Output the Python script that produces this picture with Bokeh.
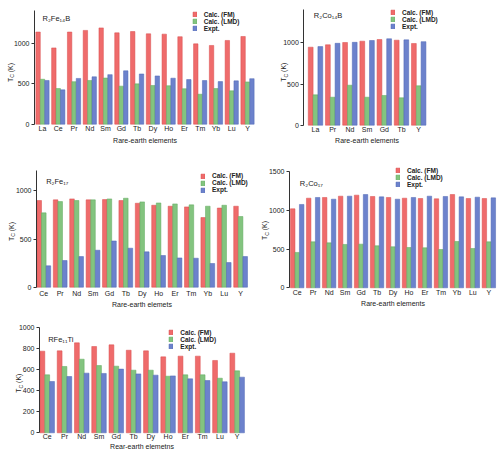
import math
from bokeh.plotting import figure
from bokeh.models import (Range1d, FixedTicker, Label, Legend, LegendItem,
                          ColumnDataSource)
from bokeh.transform import dodge
from bokeh.layouts import column, row
from bokeh.embed import file_html
from bokeh.resources import INLINE

# ---------------- data ----------------
series_names = ["Calc. (FM)", "Calc. (LMD)", "Expt."]

r2fe14b_el = ["La", "Ce", "Pr", "Nd", "Sm", "Gd", "Tb", "Dy", "Ho", "Er", "Tm", "Yb", "Lu", "Y"]
r2fe14b_fm = [1138, 942, 1138, 1158, 1189, 1128, 1144, 1116, 1112, 1080, 992, 972, 1034, 1083]
r2fe14b_lmd = [555, 440, 525, 540, 570, 470, 498, 478, 475, 438, 370, 440, 412, 522]
r2fe14b_exp = [540, 424, 565, 585, 612, 659, 620, 596, 568, 551, 539, 526, 535, 562]

r2co14b_el = ["La", "Pr", "Nd", "Sm", "Gd", "Tb", "Y"]
r2co14b_fm = [948, 977, 1005, 1021, 1041, 1033, 993]
r2co14b_lmd = [369, 340, 486, 340, 361, 333, 479]
r2co14b_exp = [955, 995, 1007, 1029, 1050, 1037, 1015]

r2fe17_el = ["Ce", "Pr", "Nd", "Sm", "Gd", "Tb", "Dy", "Ho", "Er", "Tm", "Yb", "Lu", "Y"]
r2fe17_fm = [900, 907, 917, 907, 910, 900, 872, 851, 841, 834, 723, 822, 841]
r2fe17_lmd = [772, 889, 900, 907, 917, 924, 886, 875, 865, 855, 841, 851, 734]
r2fe17_exp = [222, 277, 318, 384, 480, 405, 367, 329, 304, 301, 246, 256, 318]

r2co17_el = ["Ce", "Pr", "Nd", "Sm", "Gd", "Tb", "Dy", "Ho", "Er", "Tm", "Yb", "Lu", "Y"]
r2co17_fm = [1019, 1156, 1165, 1182, 1195, 1178, 1165, 1156, 1152, 1148, 1203, 1152, 1152]
r2co17_lmd = [456, 593, 580, 559, 563, 542, 529, 520, 516, 494, 597, 507, 593]
r2co17_exp = [1075, 1165, 1143, 1182, 1203, 1173, 1143, 1165, 1182, 1178, 1173, 1169, 1160]

rfe11ti_el = ["Ce", "Pr", "Nd", "Sm", "Gd", "Tb", "Dy", "Ho", "Er", "Tm", "Lu", "Y"]
rfe11ti_fm = [773, 776, 852, 817, 833, 782, 776, 719, 726, 726, 685, 754]
rfe11ti_lmd = [549, 628, 697, 637, 631, 593, 593, 536, 549, 549, 517, 587]
rfe11ti_exp = [486, 533, 565, 562, 603, 558, 546, 539, 511, 495, 483, 527]

# ---------------- style ----------------
FILL = ["#EF6B6B", "#83C47F", "#6C82CC"]
EDGE = ["#D94C4C", "#5FA85C", "#4F66B5"]
FONT = "Liberation Sans"
TXT = "#222222"
BW = 0.28


def panel(el, fm, lmd, exp, canvas, x0, s, axis_x, yzero, k, ymax, yticks,
          formula, fpos, ytpos, legpos, xlabel, xstand, xlstand):
    CL, CT, W, H = canvas
    CB = CT + H
    n = len(el)
    p = figure(width=W, height=H, output_backend="svg", toolbar_location=None,
               x_range=Range1d((CL - x0) / s, (CL + W - x0) / s),
               y_range=Range1d((yzero - CB) / k, (yzero - CT) / k),
               min_border_left=0, min_border_right=0,
               min_border_top=0, min_border_bottom=0)
    p.outline_line_color = None
    p.grid.visible = False
    p.background_fill_color = "white"
    src = ColumnDataSource(dict(xi=list(range(n)), el=el, fm=fm, lmd=lmd, exp=exp))
    rs = []
    for i, col in enumerate(["fm", "lmd", "exp"]):
        r = p.vbar(x=dodge("xi", (i - 1) * BW), top=col, width=BW, source=src,
                   fill_color=FILL[i], line_color=EDGE[i], line_width=0.5)
        rs.append(r)
    # x axis (category names)
    xa = p.xaxis[0]
    xa.fixed_location = 0
    xa.bounds = (-0.5, n - 0.5)
    xa.ticker = FixedTicker(ticks=list(range(n)))
    xa.major_label_overrides = {i: name for i, name in enumerate(el)}
    xa.axis_line_color = None
    xa.major_tick_line_color = None
    xa.minor_tick_line_color = None
    xa.major_tick_out = 0
    xa.major_tick_in = 0
    xa.major_label_text_font_size = "7px"
    xa.major_label_text_font = FONT
    xa.major_label_text_color = TXT
    xa.major_label_standoff = xstand
    xa.axis_label = xlabel
    xa.axis_label_text_font_style = "normal"
    xa.axis_label_text_font_size = "7px"
    xa.axis_label_text_font = FONT
    xa.axis_label_text_color = TXT
    xa.axis_label_standoff = xlstand
    # y axis
    ya = p.yaxis[0]
    ya.fixed_location = (axis_x - x0) / s
    ya.bounds = (0, ymax)
    ya.ticker = FixedTicker(ticks=yticks)
    ya.minor_tick_line_color = None
    ya.major_tick_out = 3
    ya.major_tick_in = 0
    ya.major_label_standoff = 2
    ya.major_label_text_font_size = "7px"
    ya.major_label_text_font = FONT
    ya.major_label_text_color = TXT
    ya.axis_line_color = "#333333"
    ya.major_tick_line_color = "#333333"
    # legend (square left edge, first row centre)
    leg = Legend(items=[LegendItem(label=nm, renderers=[r]) for nm, r in zip(series_names, rs)],
                 location=(legpos[0] - CL, CB - (legpos[1] - 3.5 + 21)),
                 glyph_width=5, glyph_height=6, label_height=7,
                 spacing=0, padding=0, margin=0, label_standoff=7,
                 border_line_color=None, background_fill_alpha=0,
                 label_text_font_size="6.5px", label_text_font_style="bold",
                 label_text_font=FONT, label_text_color=TXT)
    p.add_layout(leg)
    # compound formula
    p.add_layout(Label(x=fpos[0] - CL, y=CB - fpos[1], x_units="screen", y_units="screen",
                       text=formula, text_font_size="7.5px", text_font=FONT,
                       text_color=TXT, text_baseline="middle", text_align="left"))
    # y title  T_C (K), rotated
    fs = 7.0
    wT = 0.611 * fs
    wC = 0.722 * 5.0
    gap = 0.278 * fs
    wK = (0.333 + 0.667 + 0.333) * fs
    fx = ytpos[0] - CL
    y0 = (CB - ytpos[1]) - (wT + wC + gap + wK) / 2
    for txt, dx, dy, size in [("T", 0, 0, "7px"), ("C", 1.8, wT, "5px"),
                              ("(K)", 0, wT + wC + gap, "7px")]:
        p.add_layout(Label(x=fx + dx, y=y0 + dy, x_units="screen", y_units="screen",
                           text=txt, angle=math.pi / 2, text_font_size=size,
                           text_font=FONT, text_color=TXT,
                           text_baseline="middle", text_align="left"))
    return p


p1 = panel(r2fe14b_el, r2fe14b_fm, r2fe14b_lmd, r2fe14b_exp,
           canvas=(0, 0, 258, 152), x0=42, s=15.77, axis_x=34, yzero=123.7, k=0.081,
           ymax=1400, yticks=[0, 500, 1000], formula="R₂Fe₁₄B", fpos=(42, 18),
           ytpos=(10, 72), legpos=(191.7, 14), xlabel="Rare-earth elements",
           xstand=1, xlstand=1)

p2 = panel(r2co14b_el, r2co14b_fm, r2co14b_lmd, r2co14b_exp,
           canvas=(258, 0, 200, 152), x0=315, s=17.2, axis_x=303.3, yzero=124.7, k=0.0823,
           ymax=1400, yticks=[0, 500, 1000], formula="R₂Co₁₄B", fpos=(313.3, 15),
           ytpos=(283.3, 71.7), legpos=(390, 12.3), xlabel="Rare-earth elements",
           xstand=1, xlstand=0)

p3 = panel(r2fe17_el, r2fe17_fm, r2fe17_lmd, r2fe17_exp,
           canvas=(0, 152, 258, 160), x0=43.3, s=16.4, axis_x=36, yzero=286.7, k=0.0963,
           ymax=1215, yticks=[0, 500, 1000], formula="R₂Fe₁₇", fpos=(45.7, 181),
           ytpos=(11, 231), legpos=(200, 175.7), xlabel="Rare-earth elemets",
           xstand=3, xlstand=0)

p4 = panel(r2co17_el, r2co17_fm, r2co17_lmd, r2co17_exp,
           canvas=(258, 152, 240, 160), x0=296.7, s=15.97, axis_x=289, yzero=287.3, k=0.07753,
           ymax=1500, yticks=[0, 500, 1000, 1500], formula="R₂Co₁₇", fpos=(299.3, 183.3),
           ytpos=(264.3, 230), legpos=(395, 170), xlabel="Rare-earth elements",
           xstand=1, xlstand=1)

p5 = panel(rfe11ti_el, rfe11ti_fm, rfe11ti_lmd, rfe11ti_exp,
           canvas=(0, 312, 258, 143), x0=46.7, s=17.27, axis_x=39, yzero=432.3, k=0.1056,
           ymax=1000, yticks=[0, 200, 400, 600, 800, 1000], formula="RFe₁₁Ti",
           fpos=(47.7, 339), ytpos=(18.3, 382.7), legpos=(168.3, 332.3),
           xlabel="Rear-earth elemetns", xstand=0, xlstand=0)

layout = column(row(p1, p2), row(p3, p4), p5)
open("out.html", "w").write(file_html(layout, INLINE))
